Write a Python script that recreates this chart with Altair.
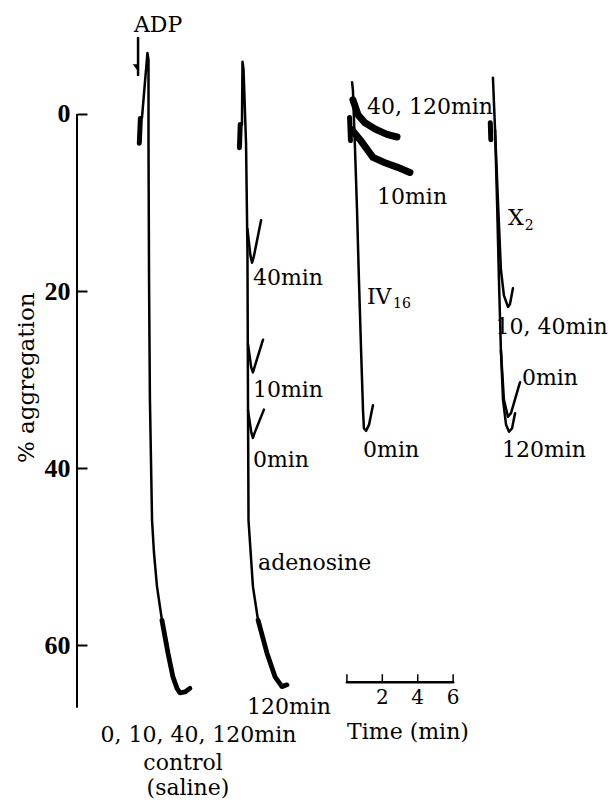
import altair as alt
import pandas as pd

# ---- data: time in minutes (horizontal recording axis), % aggregation (downward) ----
# control (saline), 0,10,40,120 min
ctrl_t = [3.67, 3.98, 4.04, 4.04, 4.07, 4.12, 4.24, 4.35, 4.52, 4.80]
ctrl_v = [0.45, -6.9, -6.1, 3.3, 18.8, 32.3, 45.9, 49.6, 53.4, 57.2]
ctrl_tail_t = [4.80, 5.14, 5.42, 5.65, 5.82, 6.10, 6.38]
ctrl_tail_v = [57.2, 60.9, 63.6, 64.9, 65.4, 65.3, 64.9]
ctrl_block_t = [3.52, 3.58]
ctrl_block_v = [3.3, 0.5]

# adenosine
aden_t = [9.32, 9.35, 9.41, 9.55, 9.63, 9.66, 9.69, 9.94, 10.23]
aden_v = [1.2, -5.9, -5.0, 3.3, 15.4, 32.3, 45.9, 53.4, 57.2]
aden_tail_t = [10.23, 10.73, 11.19, 11.58, 11.86]
aden_tail_v = [57.2, 60.9, 63.6, 64.7, 64.5]
aden_block_t = [9.18, 9.22]
aden_block_v = [3.8, 1.2]
aden40_t = [9.63, 9.80, 9.89, 9.98, 10.40]
aden40_v = [13.0, 16.0, 16.8, 16.2, 12.0]
aden10_t = [9.66, 9.84, 9.94, 10.03, 10.51]
aden10_v = [26.0, 28.6, 29.2, 28.6, 25.5]
aden0_t = [9.66, 9.85, 9.94, 10.04, 10.56]
aden0_v = [33.5, 36.0, 36.6, 36.0, 33.4]

# IV16
iv0_t = [15.54, 15.59, 15.71, 15.82, 15.93, 16.05, 16.16, 16.21, 16.33, 16.50, 16.72]
iv0_v = [-3.6, -2.7, 4.1, 10.8, 18.8, 26.7, 33.5, 35.5, 35.8, 35.1, 32.9]
iv40_t = [15.59, 15.88, 16.27, 16.84, 17.51, 18.08]
iv40_v = [-1.6, 0.1, 1.0, 1.7, 2.3, 2.6]
iv10_t = [15.54, 15.99, 16.72, 17.40, 18.08, 18.81]
iv10_v = [1.8, 2.9, 4.9, 5.5, 6.0, 6.6]
iv_block_t = [15.40, 15.45]
iv_block_v = [0.4, 3.0]

# X2
x120_t = [23.50, 23.62, 23.73, 23.84, 23.95, 24.07, 24.24, 24.41, 24.58, 24.75]
x120_v = [-4.1, 1.8, 9.7, 18.8, 26.7, 32.3, 35.1, 35.9, 35.5, 33.8]
x0_t = [23.95, 24.12, 24.35, 24.52, 25.03]
x0_v = [26.7, 32.3, 34.2, 33.8, 30.3]
x10_t = [23.62, 23.78, 23.95, 24.12, 24.35, 24.46, 24.63]
x10_v = [1.8, 9.7, 17.6, 20.5, 21.8, 21.5, 19.7]
x_block_t = [23.35, 23.38]
x_block_v = [1.0, 2.9]

# ADP arrow
adp_t = [3.45, 3.45]
adp_v = [-8.6, -4.4]
adp_head_t = [3.42]
adp_head_v = [-5.2]

# time scale bar (0-6 min)
bar_t = [15.25, 21.25]
bar_v = [64.2, 64.2]
bar_tick_t = [15.25, 17.25, 19.25, 21.25]
bar_tick_top = 63.3
bar_tick_labels = ["2", "4", "6"]
bar_tick_label_t = [17.25, 19.25, 21.25]
bar_tick_label_v = 66.0

# y axis
y_ticks = [0, 20, 40, 60]
y_axis_end = 67.1
y_title = ["% aggregation"]
y_title_t = [-2.82]
y_title_v = [29.8]

# labels (left aligned)
lab_left = ["40min", "10min", "0min", "adenosine", "120min",
            "40, 120min", "10min", "IV", "0min",
            "X", "0min", "120min"]
lab_left_t = [9.94, 9.94, 9.94, 10.23, 9.60,
              16.38, 16.95, 16.38, 16.16,
              24.35, 25.14, 24.01]
lab_left_v = [18.5, 31.2, 39.1, 50.7, 67.0,
              -0.8, 9.4, 20.7, 38.0,
              11.8, 29.8, 38.0]
# label ending at the right edge (right aligned)
lab_right = ["10, 40min"]
lab_right_t = [29.98]
lab_right_v = [24.1]
sub_labels = ["16", "2"]
sub_t = [17.86, 25.30]
sub_v = [21.5, 12.6]
lab_center = ["0, 10, 40, 120min", "control", "(saline)"]
lab_center_t = [6.86, 5.99, 6.27]
lab_center_v = [70.2, 73.3, 76.2]
big_labels = ["ADP", "Time (min)"]
big_t = [4.58, 18.70]
big_v = [-10.06, 69.8]


def series_df(d):
    rows = []
    for name, (ts, vs) in d.items():
        for i, (t, v) in enumerate(zip(ts, vs)):
            rows.append({"s": name, "i": i, "t": t, "v": v})
    return pd.DataFrame(rows)


thin = series_df({
    "ctrl": (ctrl_t, ctrl_v), "aden": (aden_t, aden_v),
    "a40": (aden40_t, aden40_v), "a10": (aden10_t, aden10_v), "a0": (aden0_t, aden0_v),
    "iv0": (iv0_t, iv0_v), "x120": (x120_t, x120_v), "x0": (x0_t, x0_v),
    "x10": (x10_t, x10_v), "adp": (adp_t, adp_v),
    "bar": (bar_t, bar_v),
})
tails = series_df({"ct": (ctrl_tail_t, ctrl_tail_v), "at": (aden_tail_t, aden_tail_v)})
bands = series_df({"iv40": (iv40_t, iv40_v), "iv10": (iv10_t, iv10_v)})
blocks = series_df({"cb": (ctrl_block_t, ctrl_block_v), "ab": (aden_block_t, aden_block_v),
                    "ib": (iv_block_t, iv_block_v), "xb": (x_block_t, x_block_v)})

xs = alt.Scale(domain=[0, 30.17], nice=False, zero=False)
ys = alt.Scale(domain=[-12.88, 77.51], reverse=True, nice=False, zero=False)
y_axis = alt.Axis(
    values=y_ticks, domain=False, grid=False, ticks=True, tickSize=10, tickWidth=2,
    tickColor="black", offset=-10, labelFont="Liberation Serif", labelFontSize=26,
    labelFontWeight="bold", labelColor="black", labelPadding=7, title=None)
X = alt.X("t:Q", scale=xs, axis=None)
Y = alt.Y("v:Q", scale=ys, axis=y_axis)


def lines(df, w):
    return alt.Chart(df).mark_line(color="black", strokeWidth=w, strokeCap="round",
                                   strokeJoin="round").encode(
        x=X, y=Y, detail="s:N", order="i:Q")


axis_rule = alt.Chart(pd.DataFrame({"t": [0], "v": [0], "v2": [y_axis_end]})).mark_rule(
    color="black", strokeWidth=2).encode(x=X, y=Y, y2="v2:Q")

bar_ticks = alt.Chart(pd.DataFrame({"t": bar_tick_t, "v": [bar_tick_top] * 4,
                                    "v2": [bar_v[0]] * 4})).mark_rule(
    color="black", strokeWidth=1.5).encode(x=X, y=Y, y2="v2:Q")

adp_head = alt.Chart(pd.DataFrame({"t": adp_head_t, "v": adp_head_v})).mark_point(
    shape="M 0.3 1 L -1 -0.8 L 0.3 -0.8 Z", filled=True, color="black", size=90,
    opacity=1).encode(x=X, y=Y)


def texts(labels, ts, vs, size, align, angle=0):
    df = pd.DataFrame({"label": labels, "t": ts, "v": vs})
    return alt.Chart(df).mark_text(font="DejaVu Serif", fontSize=size, align=align,
                                   baseline="middle", color="black", angle=angle).encode(
        x=X, y=Y, text="label:N")


chart = alt.layer(
    axis_rule,
    lines(thin, 2.5),
    lines(tails, 4.8),
    lines(bands, 7),
    lines(blocks, 5),
    bar_ticks,
    adp_head,
    texts(y_title, y_title_t, y_title_v, 23, "center", 270),
    texts(lab_left, lab_left_t, lab_left_v, 22, "left"),
    texts(lab_right, lab_right_t, lab_right_v, 22, "right"),
    texts(sub_labels, sub_t, sub_v, 14, "left"),
    texts(lab_center, lab_center_t, lab_center_v, 22, "center"),
    texts(big_labels, big_t, big_v, 22, "center"),
    texts(bar_tick_labels, bar_tick_label_t, [bar_tick_label_v] * 3, 20, "center"),
).properties(
    width=534, height=800,
    autosize=alt.AutoSizeParams(type="none"),
    padding={"left": 77, "top": 0, "right": 0, "bottom": 0},
    background="white",
).configure(font="DejaVu Serif").configure_view(strokeWidth=0).configure_axis(
    labelFont="Liberation Serif")

chart.save("out.html", embed_options={"renderer": "svg", "actions": False})
